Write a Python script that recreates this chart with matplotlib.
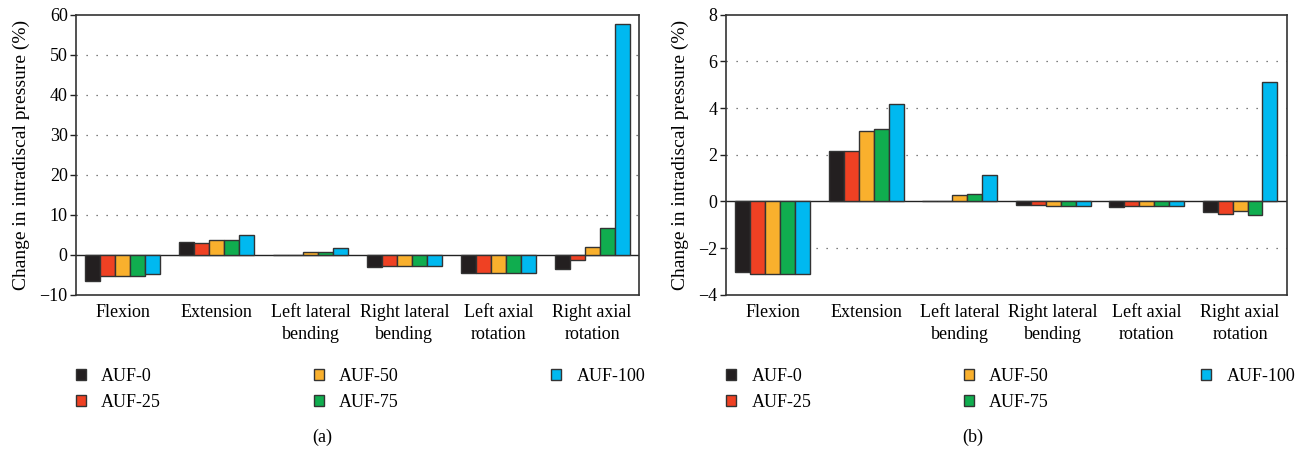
import numpy as np
import matplotlib
matplotlib.use("Agg")
import matplotlib.pyplot as plt
from matplotlib.patches import Patch

plt.rcParams['font.family'] = ['Liberation Serif', 'DejaVu Serif']

# data
categories = ["Flexion", "Extension", "Left lateral\nbending", "Right lateral\nbending",
              "Left axial\nrotation", "Right axial\nrotation"]
series = ["AUF-0", "AUF-25", "AUF-50", "AUF-75", "AUF-100"]
colors = ["#231f20", "#ef4123", "#f9b02d", "#10ad4f", "#00b9f0"]

# (a) change in intradiscal pressure (%)
a_auf0 = [-6.5, 3.25, 0.0, -3.0, -4.5, -3.6]
a_auf25 = [-5.4, 3.0, 0.0, -2.85, -4.5, -1.3]
a_auf50 = [-5.4, 3.65, 0.55, -2.85, -4.5, 1.85]
a_auf75 = [-5.4, 3.65, 0.55, -2.85, -4.5, 6.7]
a_auf100 = [-4.75, 4.8, 1.55, -2.85, -4.5, 57.7]

# (b)
b_auf0 = [-3.04, 2.17, 0.0, -0.15, -0.24, -0.47]
b_auf25 = [-3.13, 2.17, 0.0, -0.17, -0.22, -0.55]
b_auf50 = [-3.13, 3.03, 0.26, -0.18, -0.22, -0.41]
b_auf75 = [-3.13, 3.1, 0.33, -0.18, -0.22, -0.59]
b_auf100 = [-3.13, 4.16, 1.13, -0.18, -0.21, 5.13]

a_vals = [a_auf0, a_auf25, a_auf50, a_auf75, a_auf100]
b_vals = [b_auf0, b_auf25, b_auf50, b_auf75, b_auf100]

fig = plt.figure(figsize=(12.97, 4.49), dpi=100)
ax_a = fig.add_axes([0.0586, 0.3437, 0.4341, 0.6236])
ax_b = fig.add_axes([0.5598, 0.3437, 0.4323, 0.6236])

edge = "#333333"
fs = 13


def draw(ax, vals, ylim, step, caption, cap_x):
    x = np.arange(len(categories))
    w = 0.16
    for i, (v, c) in enumerate(zip(vals, colors)):
        ax.bar(x + (i - 2) * w, v, w, color=c, edgecolor=edge, linewidth=1.0, zorder=3)
    ax.axhline(0, color="#222222", lw=1.0, zorder=2)
    ax.set_xlim(-0.5, len(categories) - 0.5)
    ax.set_ylim(*ylim)
    ticks = np.arange(ylim[0], ylim[1] + step / 2, step)
    ax.set_yticks(ticks)
    ax.set_yticklabels([f"{t:g}".replace("-", "\u2212") for t in ticks], fontsize=fs)
    for t in ticks:
        if t not in (ylim[0], ylim[1], 0):
            ax.axhline(t, color="#555555", lw=0.9, ls=(0, (1, 7)), zorder=1)
    ax.set_xticks(x)
    ax.set_xticklabels(categories, fontsize=fs, linespacing=1.38)
    ax.tick_params(axis="x", length=0, pad=7)
    ax.tick_params(axis="y", direction="out", length=4, width=1, color="#222222", pad=2)
    for s in ax.spines.values():
        s.set_color("#333333")
        s.set_linewidth(1.2)
    ax.set_ylabel("Change in intradiscal pressure (%)", fontsize=14, labelpad=7)
    handles = [Patch(facecolor=c, edgecolor=edge, linewidth=1.0, label=s)
               for s, c in zip(series, colors)]
    ax.legend(handles=handles, ncol=3, loc="upper left", bbox_to_anchor=(-0.016, -0.228),
              frameon=False, fontsize=fs, handlelength=0.55, handleheight=0.55,
              handletextpad=0.85, columnspacing=8.45, labelspacing=0.5, borderpad=0)
    fig.text(cap_x, 1 - 437 / 449, caption, ha="center", va="center", fontsize=fs)


draw(ax_a, a_vals, (-10, 60), 10, "(a)", 322 / 1297)
draw(ax_b, b_vals, (-4, 8), 2, "(b)", 973 / 1297)

fig.savefig("out.png", dpi=100)
